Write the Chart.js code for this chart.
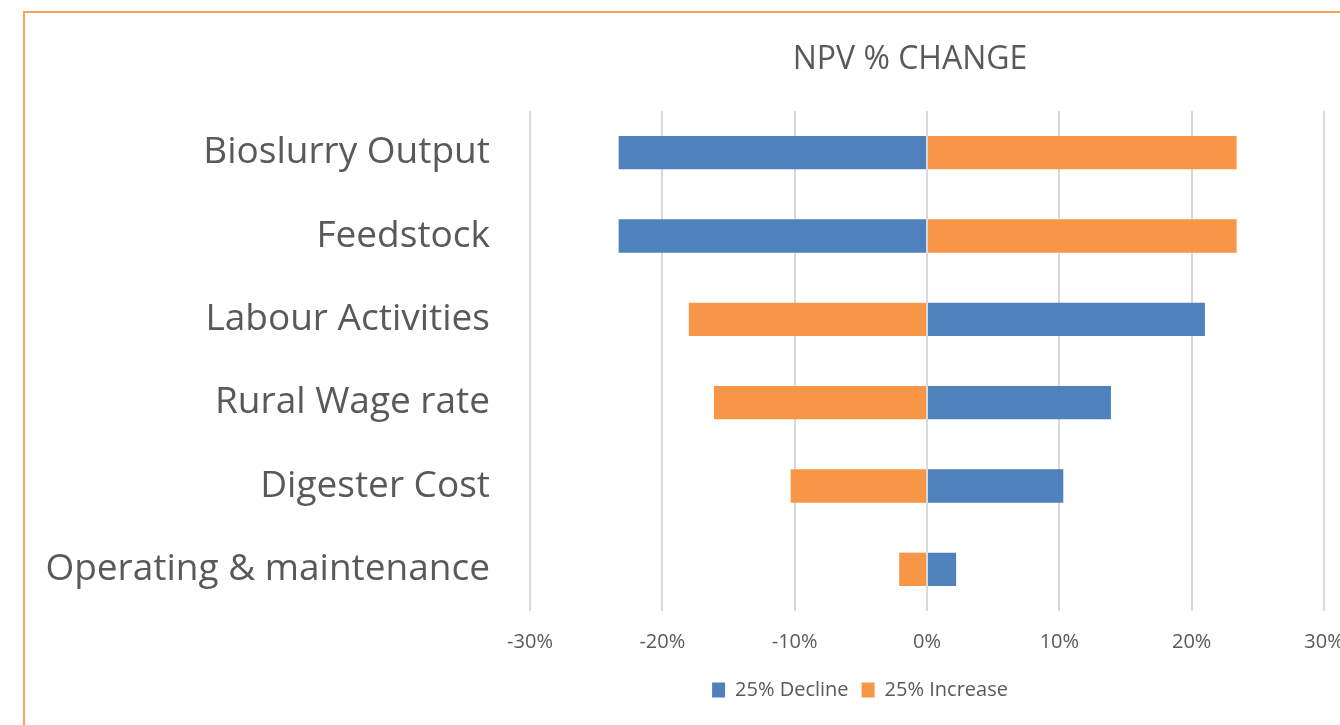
<!DOCTYPE html>
<html>
<head>
<meta charset="utf-8">
<script src="https://cdn.jsdelivr.net/npm/chart.js@4.4.0/dist/chart.umd.min.js"></script>
<style>
  html, body { margin: 0; padding: 0; background: #fff; overflow: hidden; }
  .marco { position: absolute; left: 23px; top: 11px; width: 1400px; height: 800px; border: 2px solid #f9a25c; }
  .caja { position: absolute; left: 0; top: 0; width: 1340px; height: 725px; }
</style>
</head>
<body>
<div class="marco"></div>
<div class="caja"><canvas id="chart1" width="1340" height="725"></canvas></div>
<script>
// datos del grafico
var categorias = ['Bioslurry Output', 'Feedstock', 'Labour Activities', 'Rural Wage rate', 'Digester Cost', 'Operating & maintenance'];
var decline = [-23.3, -23.3, 21.0, 13.9, 10.3, 2.2];
var increase = [23.4, 23.4, -18.0, -16.1, -10.3, -2.1];
var ticksX = [-30, -20, -10, 0, 10, 20, 30];

var gris = '#595959';
var fuente = "'Open Sans', sans-serif";

// mover titulo y leyenda un poco a la izquierda, como en excel
var moverCajas = {
  id: 'moverCajas',
  afterLayout: function(chart) {
    var t = chart.titleBlock;
    t.left -= 17; t.right -= 17;
    var l = chart.legend;
    l.left -= 67; l.right -= 67;
  }
};

var ctx = document.getElementById('chart1').getContext('2d');
var chart1_bar = new Chart(ctx, {
  type: 'bar',
  data: {
    labels: categorias,
    datasets: [{
      label: '25% Decline',
      data: decline,
      backgroundColor: '#4f81bd',
      borderWidth: 0,
      barPercentage: 0.4,
      categoryPercentage: 1
    }, {
      label: '25% Increase',
      data: increase,
      backgroundColor: '#f79646',
      borderWidth: 0,
      barPercentage: 0.4,
      categoryPercentage: 1
    }]
  },
  plugins: [moverCajas],
  options: {
    indexAxis: 'y',
    responsive: false,
    animation: false,
    layout: {
      padding: { left: 0, right: 16, top: 0, bottom: 15 }
    },
    plugins: {
      title: {
        display: true,
        text: 'NPV % CHANGE',
        color: gris,
        fullSize: false,
        font: { family: fuente, size: 32, weight: 'normal' },
        padding: { top: 41, bottom: 31.6 }
      },
      legend: {
        position: 'bottom',
        fullSize: false,
        labels: {
          color: gris,
          font: { family: fuente, size: 20 },
          boxWidth: 13,
          boxHeight: 15,
          padding: 13
        }
      },
      tooltip: { enabled: false }
    },
    scales: {
      x: {
        stacked: true,
        min: -30,
        max: 30,
        afterBuildTicks: function(scale) {
          scale.ticks = ticksX.map(function(v) { return { value: v }; });
        },
        afterFit: function(scale) {
          scale.height = 56;
          scale.paddingLeft = 0;
          scale.paddingRight = 0;
        },
        ticks: {
          color: gris,
          font: { family: fuente, size: 20 },
          padding: 19,
          maxRotation: 0,
          callback: function(v) { return v + '%'; }
        },
        grid: { color: '#d9d9d9', lineWidth: 2, drawTicks: false },
        border: { display: false }
      },
      y: {
        stacked: true,
        afterFit: function(scale) { scale.width = 530; },
        ticks: {
          color: gris,
          font: { family: fuente, size: 37 },
          padding: 40
        },
        grid: { display: false, drawTicks: false },
        border: { display: false }
      }
    }
  }
});
</script>
</body>
</html>
